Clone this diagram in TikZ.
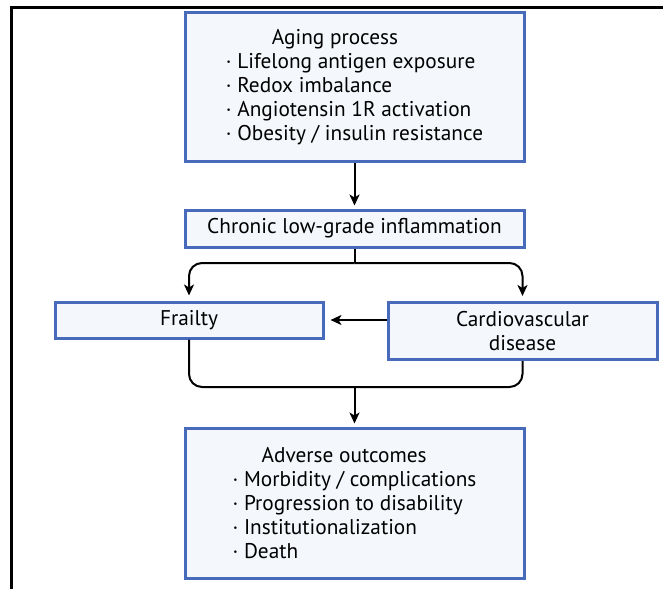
\documentclass[tikz,border=0pt]{standalone}
\usepackage{fontspec}
\setmainfont{PT Sans}
\usetikzlibrary{arrows.meta}
\definecolor{boxblue}{RGB}{72,106,186}
\definecolor{boxfill}{RGB}{244,248,252}
\begin{document}
\begin{tikzpicture}[x=1pt,y=1pt,
  box/.style={draw=boxblue, line width=3pt, fill=boxfill, rectangle, inner sep=0pt,
    font=\fontsize{21.3}{24}\selectfont},
  link/.style={line width=2pt, black},
  arr/.style={link, -{Stealth[length=11pt,width=10pt,inset=3pt]}}]
\useasboundingbox (0,0) rectangle (663,-589);
% outer frame (top and left rules)
\draw[line width=3pt] (11,-589) -- (11,-7) -- (663,-7);

\node[box, minimum width=339pt, minimum height=149pt, align=left] (aging) at (354.5,-87)
  {\hspace*{46pt}Aging process\\
   · Lifelong antigen exposure\\
   · Redox imbalance\\
   · Angiotensin 1R activation\\
   · Obesity / insulin resistance};
\node[box, minimum width=339pt, minimum height=37pt] (chronic) at (354.5,-228.5)
  {Chronic low-grade inflammation};
\node[box, minimum width=268pt, minimum height=36pt] (frailty) at (189,-320)
  {Frailty};
\node[box, minimum width=269pt, minimum height=57pt, align=center] (cvd) at (522.5,-331)
  {Cardiovascular\\disease};
\node[box, minimum width=339pt, minimum height=150pt, align=left] (adverse) at (354.5,-503)
  {\hspace*{29pt}Adverse outcomes\\
   · Morbidity / complications\\
   · Progression to disability\\
   · Institutionalization\\
   · Death};

\coordinate (split) at (354.5,-263);
\coordinate (join) at (354.5,-387);

\draw[arr, shorten >=3pt] (aging.south) -- (chronic.north);
\draw[link] (chronic.south) -- (split);
\draw[arr, rounded corners=13pt, shorten >=5pt] (split) -| (frailty.north);
\draw[arr, rounded corners=13pt, shorten >=5pt] (split) -| (cvd.north);
\draw[arr, shorten >=6pt] (cvd.west |- frailty.east) -- (frailty.east);
\draw[link, rounded corners=13pt] (frailty.south) |- (join) -| (cvd.south);
\draw[arr, shorten >=3pt] (join) -- (adverse.north);
\end{tikzpicture}
\end{document}
